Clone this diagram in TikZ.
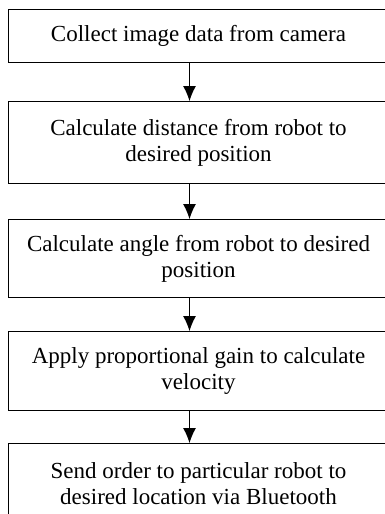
\documentclass[tikz,border=0pt]{standalone}
\usepackage{fontspec}
\setmainfont{Liberation Serif}
\usetikzlibrary{arrows.meta}

\begin{document}
\begin{tikzpicture}[x=1pt, y=-1pt,
  flowbox/.style={draw, line width=1.1pt, minimum width=380pt, align=center,
    inner sep=0pt, anchor=north, font=\fontsize{23}{26}\selectfont},
  flowarrow/.style={-{Latex[length=15pt,width=13pt]}, line width=1pt}]

  \useasboundingbox (0,0) rectangle (385,514); % page size

  \node[flowbox, minimum height=53.5pt] (collect) at (198.5,8.5) {Collect image data from camera};
  \node[flowbox, minimum height=82pt] (distance) at (198.5,101) {Calculate distance from robot to\\desired position};
  \node[flowbox, minimum height=78pt] (angle) at (198.5,219) {Calculate angle from robot to desired\\position};
  \node[flowbox, minimum height=79pt] (gain) at (198.5,331) {Apply proportional gain to calculate\\velocity};
  \node[flowbox, minimum height=80pt] (send) at (198.5,443) {Send order to particular robot to\\desired location via Bluetooth}; % right and bottom edges run off the page

  % arrows sit a little left of the box centre
  \draw[flowarrow] ([xshift=-9pt]collect.south) -- ([xshift=-9pt]distance.north);
  \draw[flowarrow] ([xshift=-9pt]distance.south) -- ([xshift=-9pt]angle.north);
  \draw[flowarrow] ([xshift=-9pt]angle.south) -- ([xshift=-9pt]gain.north);
  \draw[flowarrow] ([xshift=-9pt]gain.south) -- ([xshift=-9pt]send.north);
\end{tikzpicture}
\end{document}
